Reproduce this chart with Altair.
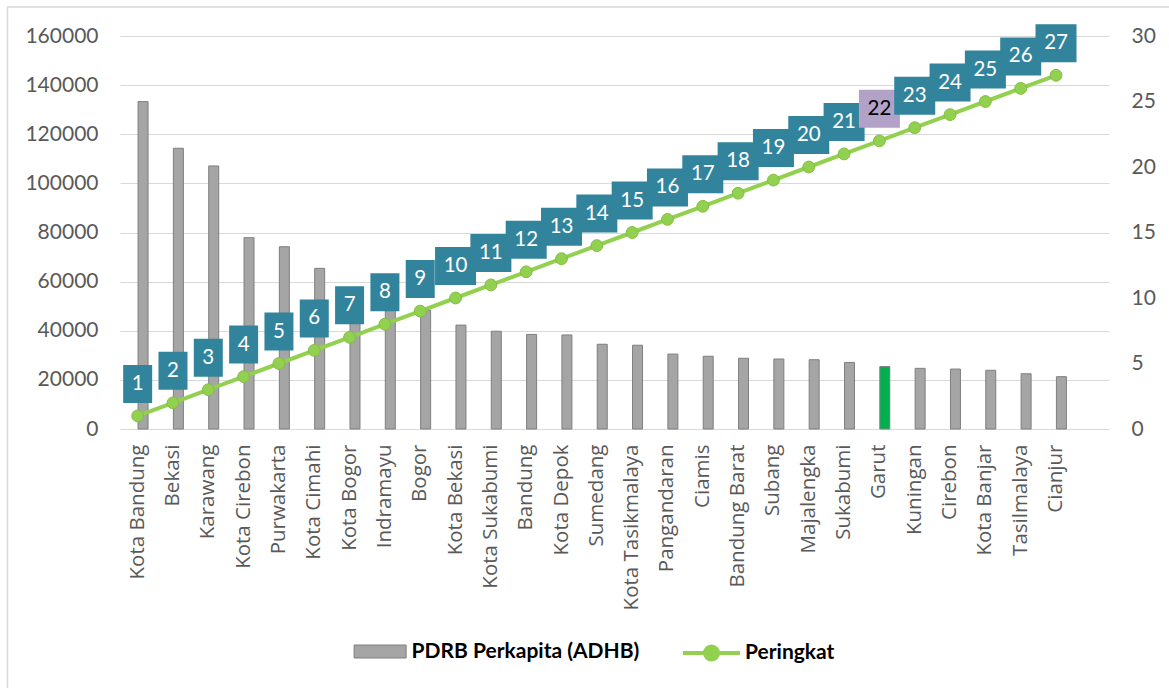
import altair as alt
import pandas as pd

# Regions of West Java ordered by per-capita GRDP (current prices)
regions = [
    "Kota Bandung", "Bekasi", "Karawang", "Kota Cirebon", "Purwakarta",
    "Kota Cimahi", "Kota Bogor", "Indramayu", "Bogor", "Kota Bekasi",
    "Kota Sukabumi", "Bandung", "Kota Depok", "Sumedang", "Kota Tasikmalaya",
    "Pangandaran", "Ciamis", "Bandung Barat", "Subang", "Majalengka",
    "Sukabumi", "Garut", "Kuningan", "Cirebon", "Kota Banjar",
    "Tasilmalaya", "Cianjur",
]
pdrb = [
    133300, 114300, 107100, 77900, 74200,
    65400, 57000, 50000, 48400, 42300,
    39800, 38500, 38300, 34500, 34100,
    30500, 29600, 28800, 28500, 28200,
    27100, 25400, 24700, 24400, 23900,
    22500, 21300,
]
peringkat = [
    1, 2, 3, 4, 5, 6, 7, 8, 9, 10, 11, 12, 13, 14,
    15, 16, 17, 18, 19, 20, 21, 22, 23, 24, 25, 26, 27,
]
left_ticks = [0, 20000, 40000, 60000, 80000, 100000, 120000, 140000, 160000]
right_ticks = [0, 5, 10, 15, 20, 25, 30]
highlight = "Garut"

BAR_NAME = "PDRB Perkapita (ADHB)"
LINE_NAME = "Peringkat"

df = pd.DataFrame({
    "region": regions,
    "pdrb": pdrb,
    "rank": peringkat,
    "bar_series": BAR_NAME,
    "line_series": LINE_NAME,
})

GRAY = "#A5A5A5"
GREEN_LINE = "#92D050"
TEAL = "#31849B"
LILAC = "#B3A2C7"
TICK_COLOR = "#595959"
GRID = "#D9D9D9"

W, H = 989, 393

# an empty trailing slot keeps the category axis one band wider on the right
x_enc = alt.X(
    "region:N",
    sort=None,
    scale=alt.Scale(domain=regions + [" "], paddingInner=0, paddingOuter=0),
    axis=alt.Axis(
        title=None, labelAngle=-90, labelFont="Open Sans", labelFontSize=20.5,
        labelColor=TICK_COLOR, ticks=False, domain=False, labelPadding=15,
    ),
)

y_left = alt.Y(
    "pdrb:Q",
    scale=alt.Scale(domain=[0, 160000], nice=False),
    axis=alt.Axis(
        title=None, values=left_ticks, format="d", grid=True, gridColor=GRID,
        gridWidth=1.2, domain=False, ticks=False, labelFont="Lato",
        labelFontSize=21, labelColor=TICK_COLOR, labelPadding=22,
    ),
)

rank_axis = alt.Axis(
    title=None, orient="right", values=right_ticks, grid=False, domain=False,
    ticks=False, labelFont="Lato", labelFontSize=21, labelColor=TICK_COLOR,
    labelPadding=22,
)
rank_scale = alt.Scale(domain=[0, 30], nice=False)

bar_symbol = "M-1,-0.25 H1 V0.25 H-1 Z"
line_symbol = (
    "M-1,0 H1 M0.23,0 A0.23,0.23 0 1,1 -0.23,0 A0.23,0.23 0 1,1 0.23,0 Z"
)

bars = alt.Chart(df).mark_bar(
    width=10, xOffset=5.4, stroke="#7F7F7F", strokeWidth=1
).encode(
    x=x_enc,
    y=y_left,
    fill=alt.condition(
        alt.datum.region == highlight,
        alt.value("#00B050"),
        alt.Fill(
            "bar_series:N",
            scale=alt.Scale(domain=[BAR_NAME], range=[GRAY]),
            legend=alt.Legend(
                title=None, orient="none", legendX=233.6, legendY=589,
                symbolType=bar_symbol, symbolSize=2704,
                symbolStrokeColor="#7F7F7F", symbolStrokeWidth=1,
                labelFont="Lato", labelFontWeight="bold", labelFontSize=21,
                labelColor="#000000", labelOffset=5, labelLimit=400,
                padding=0,
            ),
        ),
    ),
)

line = alt.Chart(df).mark_line(strokeWidth=4).encode(
    x=x_enc,
    y=alt.Y("rank:Q", scale=rank_scale, axis=rank_axis),
    stroke=alt.Stroke(
        "line_series:N",
        scale=alt.Scale(domain=[LINE_NAME], range=[GREEN_LINE]),
        legend=alt.Legend(
            title=None, orient="none", legendX=561, legendY=586.5,
            symbolType=line_symbol, symbolSize=3249, symbolStrokeWidth=4,
            symbolFillColor=GREEN_LINE, labelFont="Lato",
            labelFontWeight="bold", labelFontSize=21, labelColor="#000000",
            labelOffset=3, labelLimit=400, padding=0,
        ),
    ),
)

points = alt.Chart(df).mark_circle(
    size=140, opacity=1, stroke="#86BC45", strokeWidth=1
).encode(
    x=x_enc,
    y=alt.Y("rank:Q", scale=rank_scale, axis=rank_axis),
    fill=alt.value(GREEN_LINE),
)

box_fill = alt.condition(
    alt.datum.rank == 22, alt.value(LILAC), alt.value(TEAL)
)

boxes_one = alt.Chart(df).transform_filter(alt.datum.rank < 10).mark_bar(
    width=29, yOffset=-13, y2Offset=-51
).encode(
    x=x_enc,
    y=alt.Y("rank:Q", scale=rank_scale, axis=rank_axis),
    y2=alt.Y2("rank:Q"),
    fill=box_fill,
)

boxes_two = alt.Chart(df).transform_filter(alt.datum.rank >= 10).mark_bar(
    width=41, yOffset=-13, y2Offset=-51
).encode(
    x=x_enc,
    y=alt.Y("rank:Q", scale=rank_scale, axis=rank_axis),
    y2=alt.Y2("rank:Q"),
    fill=box_fill,
)

labels = alt.Chart(df).mark_text(
    font="Lato", fontSize=20.5, dy=-32, baseline="middle", align="center"
).encode(
    x=x_enc,
    y=alt.Y("rank:Q", scale=rank_scale, axis=rank_axis),
    text=alt.Text("rank:Q"),
    color=alt.condition(
        alt.datum.rank == 22, alt.value("#000000"), alt.value("#FFFFFF")
    ),
)

rank_layer = alt.layer(line, points, boxes_one, boxes_two, labels)

# light outline around the whole figure
frame = alt.Chart(alt.Data(values=[{"f": 1}])).mark_rect(
    filled=False, stroke=GRID, strokeWidth=1.5
).encode(
    x=alt.value(-112.5), x2=alt.value(1100),
    y=alt.value(-29), y2=alt.value(700),
)

chart = alt.layer(frame, bars, rank_layer).resolve_scale(
    y="independent", fill="independent"
).properties(
    width=W, height=H,
    padding={"left": 120, "top": 36, "right": 60, "bottom": 259},
    autosize=alt.AutoSizeParams(type="none"),
    background="#FFFFFF",
).configure_view(strokeWidth=0)

chart.save("out.html", embed_options={"renderer": "svg", "actions": False})
